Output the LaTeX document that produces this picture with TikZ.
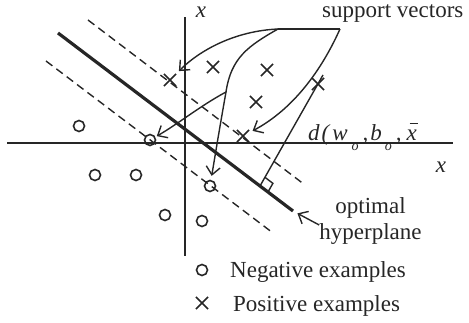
\documentclass[tikz,border=0pt]{standalone}
\usepackage{fontspec}
\setmainfont{Liberation Serif}
\usetikzlibrary{arrows.meta,shapes.misc,calc}
\definecolor{ink}{HTML}{262626}
\begin{document}
\begin{tikzpicture}[x=1pt,y=-1pt,
  every node/.style={text=ink},
  lbl/.style={font=\fontsize{23}{26}\selectfont, inner sep=0pt},
  ilbl/.style={font=\fontsize{23}{26}\selectfont\itshape, inner sep=0pt},
  negpt/.style={draw=ink, circle, line width=1.6pt, minimum size=11pt, inner sep=0pt},
  pospt/.style={draw=ink, cross out, line width=1.6pt, minimum size=10.5pt, inner sep=0pt},
  axisline/.style={draw=ink, line width=1.4pt},
  marginline/.style={draw=ink, line width=1.4pt, dash pattern=on 8pt off 5pt},
  hyperline/.style={draw=ink, line width=3.2pt},
  link/.style={draw=ink, line width=1.4pt},
  ptr/.style={draw=ink, line width=1.4pt, -{Straight Barb[length=8pt,width=14pt,line width=1.4pt]}},
]
\useasboundingbox (0,0) rectangle (469,323);

% axes
\coordinate (xl) at (7,143);
\coordinate (xr) at (453,143);
\coordinate (yt) at (185,17);
\coordinate (yb) at (185,256);
\draw[axisline] (xl) -- (xr);
\draw[axisline] (yb) -- (yt);
\node[ilbl] (xtop) at (201,12) {x};
\node[ilbl] (xright) at (441,167) {x};

% margins and hyperplane
\coordinate (uA) at (88,20);
\coordinate (uB) at (305,185);
\coordinate (lA) at (46,61);
\coordinate (lB) at (273,233);
\coordinate (hA) at (58,33);
\coordinate (hB) at (293,211);
\draw[marginline] (uA) -- (uB);
\draw[marginline] (lA) -- (lB);
\draw[hyperline] (hA) -- (hB);

% positive examples
\node[pospt] (c1) at (170,80) {};
\node[pospt] (c2) at (213,67) {};
\node[pospt] (c3) at (267,70) {};
\node[pospt] (c4) at (256,102) {};
\node[pospt] (c5) at (243,136) {};
\node[pospt] (c6) at (318,84) {};

% negative examples
\node[negpt] (n1) at (79,126) {};
\node[negpt] (n2) at (150,140) {};
\node[negpt] (n3) at (95,175) {};
\node[negpt] (n4) at (136,175) {};
\node[negpt] (n5) at (165,215) {};
\node[negpt] (n6) at (202,221) {};
\node[negpt] (n7) at (210,186) {};

% distance line with right angle mark
\coordinate (F) at (260,186);
\coordinate (dT) at (323,75);
\draw[link] (F) -- (dT);
\coordinate (ma) at ($(F)!10pt!(hB)$);
\coordinate (mb) at ($(F)!10pt!(dT)$);
\coordinate (mc) at ($(ma)+(mb)-(F)$);
\draw[link] (ma) -- (mc) -- (mb);

% distance label
\node[ilbl, anchor=base west] (dlab) at (308,141) {d\kern2pt(\kern3pt w\kern4pt\raisebox{-10pt}{\fontsize{14}{14}\selectfont o}\kern4pt,\kern2pt b\kern3pt\raisebox{-10pt}{\fontsize{14}{14}\selectfont o}\kern4pt,\kern5pt\rlap{\kern3pt\raisebox{16.5pt}{\rule{8pt}{1.1pt}}}x};

% support vectors
\node[lbl, anchor=base west] (sv) at (322,18) {support vectors};
\coordinate (s1) at (278,29);
\coordinate (s2) at (340,29);
\coordinate (br) at (226,92);
\draw[link] (s1) -- (s2);
\draw[ptr, shorten >=4pt] (s1) .. controls (235,31) and (200,50) .. (c1);
\draw[link] (s1) .. controls (248,46) and (231,58) .. (br);
\draw[ptr, shorten >=1.5pt] (br) .. controls (200,106) and (178,124) .. (n2);
\draw[ptr, shorten >=4pt] (br) .. controls (221,120) and (216,150) .. (n7);
\draw[ptr, shorten >=4pt] (s2) .. controls (318,78) and (288,112) .. (c5);

% optimal hyperplane label
\node[lbl, align=center] (hlab) at (370.5,221) {optimal\\hyperplane};
\draw[ptr, shorten >=5pt] ([yshift=-4pt]hlab.west) -- (hB);

% legend
\node[negpt] (ln) at (202,270) {};
\node[lbl, anchor=base west] (lnt) at (230,278) {Negative examples};
\node[pospt] (lp) at (202,303) {};
\node[lbl, anchor=base west] (lpt) at (233,312) {Positive examples};
\end{tikzpicture}
\end{document}
